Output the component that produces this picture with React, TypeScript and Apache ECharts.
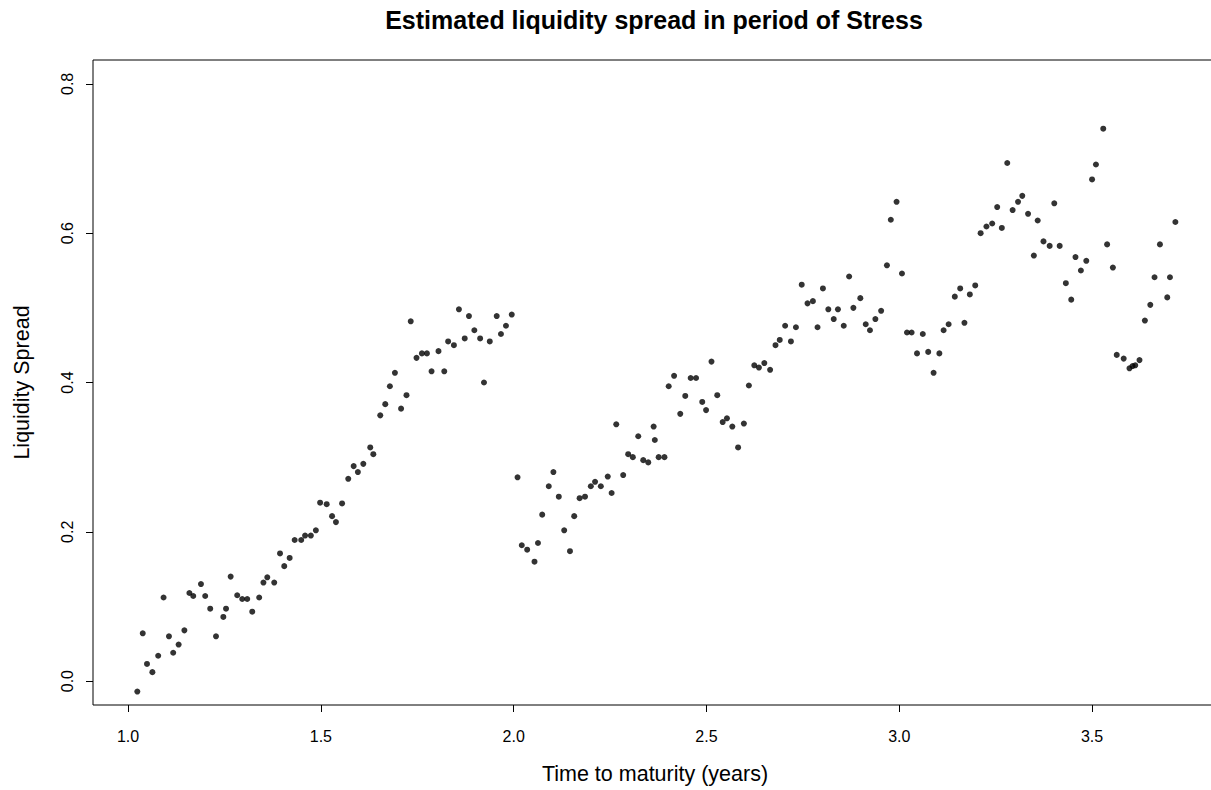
import React, { useEffect, useRef } from "react";
import * as echarts from "echarts";

const TITLE = "Estimated liquidity spread in period of Stress";
const X_LABEL = "Time to maturity (years)";
const Y_LABEL = "Liquidity Spread";

const xTicks = [1.0, 1.5, 2.0, 2.5, 3.0, 3.5];
const yTicks = [0.0, 0.2, 0.4, 0.6, 0.8];

const maturity = [
  1.024, 1.038, 1.049, 1.063, 1.078, 1.092, 1.106, 1.117, 1.131, 1.146,
  1.159, 1.169, 1.189, 1.2, 1.213, 1.228, 1.247, 1.254, 1.266, 1.283,
  1.296, 1.309, 1.322, 1.34, 1.351, 1.361, 1.379, 1.394, 1.405, 1.419,
  1.432, 1.449, 1.459, 1.474, 1.487, 1.498, 1.515, 1.529, 1.539, 1.555,
  1.571, 1.585, 1.596, 1.61, 1.628, 1.636, 1.654, 1.667, 1.679, 1.692,
  1.708, 1.722, 1.733, 1.748, 1.762, 1.775, 1.787, 1.805, 1.82, 1.83,
  1.845, 1.858, 1.873, 1.884, 1.898, 1.913, 1.923, 1.938, 1.956, 1.967,
  1.98, 1.995,
  2.01, 2.021, 2.035, 2.054, 2.063, 2.074, 2.091, 2.103, 2.117, 2.131,
  2.146, 2.157, 2.171, 2.185, 2.2, 2.211, 2.226, 2.244, 2.254, 2.266,
  2.284, 2.297, 2.309, 2.323, 2.336, 2.349, 2.363, 2.366, 2.376, 2.391,
  2.402, 2.416, 2.432, 2.445, 2.459, 2.473, 2.489, 2.499, 2.513, 2.528,
  2.542, 2.553, 2.567, 2.582, 2.597, 2.61, 2.624, 2.636, 2.65, 2.665,
  2.679, 2.69, 2.704, 2.719, 2.732, 2.747, 2.762, 2.776, 2.788, 2.802,
  2.816, 2.83, 2.841, 2.856, 2.87, 2.881, 2.899, 2.913, 2.924, 2.938,
  2.953, 2.968, 2.978, 2.993, 3.007, 3.02, 3.032, 3.046, 3.061, 3.075,
  3.089, 3.104, 3.115, 3.128, 3.144, 3.158, 3.169, 3.183, 3.197, 3.211,
  3.226, 3.241, 3.254, 3.266, 3.28, 3.294, 3.308, 3.319, 3.334, 3.349,
  3.359, 3.374, 3.39, 3.402, 3.416, 3.432, 3.446, 3.457, 3.471, 3.485,
  3.5, 3.51, 3.529, 3.539, 3.554, 3.564, 3.582, 3.597, 3.605, 3.612,
  3.623, 3.637, 3.651, 3.662, 3.676, 3.695, 3.702, 3.716,
];

const spread = [
  -0.014, 0.064, 0.023, 0.012, 0.034, 0.112, 0.06, 0.038, 0.049, 0.068,
  0.118, 0.114, 0.13, 0.114, 0.097, 0.06, 0.086, 0.097, 0.14, 0.115,
  0.11, 0.11, 0.093, 0.112, 0.132, 0.139, 0.132, 0.171, 0.154, 0.165,
  0.189, 0.189, 0.195, 0.195, 0.202, 0.239, 0.237, 0.221, 0.213, 0.238,
  0.271, 0.288, 0.28, 0.291, 0.313, 0.304, 0.356, 0.371, 0.395, 0.413,
  0.365, 0.383, 0.482, 0.433, 0.439, 0.439, 0.415, 0.442, 0.415, 0.455,
  0.45, 0.498, 0.459, 0.489, 0.47, 0.459, 0.4, 0.455, 0.489, 0.465,
  0.476, 0.491,
  0.273, 0.182, 0.176, 0.16, 0.185, 0.223, 0.261, 0.28, 0.247, 0.202,
  0.174, 0.221, 0.245, 0.247, 0.261, 0.267, 0.261, 0.274, 0.252, 0.344,
  0.276, 0.304, 0.3, 0.328, 0.296, 0.293, 0.341, 0.323, 0.3, 0.3,
  0.395, 0.409, 0.358, 0.382, 0.406, 0.406, 0.374, 0.363, 0.428, 0.383,
  0.347, 0.352, 0.341, 0.313, 0.345, 0.396, 0.423, 0.42, 0.426, 0.417,
  0.45, 0.457, 0.476, 0.455, 0.474, 0.531, 0.506, 0.509, 0.474, 0.526,
  0.498, 0.485, 0.498, 0.476, 0.542, 0.5, 0.513, 0.478, 0.47, 0.485,
  0.496, 0.557, 0.618, 0.642, 0.546, 0.467, 0.467, 0.439, 0.465, 0.441,
  0.413, 0.439, 0.47, 0.478, 0.515, 0.526, 0.48, 0.518, 0.53, 0.6,
  0.609, 0.613, 0.635, 0.607, 0.694, 0.631, 0.642, 0.65, 0.626, 0.57,
  0.617, 0.589, 0.583, 0.64, 0.583, 0.533, 0.511, 0.568, 0.55, 0.563,
  0.672, 0.692, 0.74, 0.585, 0.554, 0.437, 0.432, 0.419, 0.422, 0.423,
  0.43, 0.483, 0.504, 0.541, 0.585, 0.514, 0.541, 0.615,
];

const FONT = "'Liberation Sans', Arial, Helvetica, sans-serif";

export default function App() {
  const ref = useRef<HTMLDivElement>(null);

  useEffect(() => {
    if (!ref.current) return;
    const chart = echarts.init(ref.current, undefined, { renderer: "svg" });
    const n = Math.min(maturity.length, spread.length);
    const data: number[][] = [];
    for (let i = 0; i < n; i++) data.push([maturity[i], spread[i]]);

    chart.setOption({
      animation: false,
      backgroundColor: "#ffffff",
      textStyle: { fontFamily: FONT },
      grid: {
        left: 93,
        top: 60,
        right: 13,
        bottom: 83,
        show: true,
        borderColor: "#000",
        borderWidth: 1,
        backgroundColor: "transparent",
        containLabel: false,
      },
      graphic: [
        {
          type: "text",
          x: 654,
          y: 20,
          style: {
            text: TITLE,
            fontFamily: FONT,
            fontSize: 25,
            fontWeight: "bold",
            fill: "#000",
            textAlign: "center",
            textVerticalAlign: "middle",
          },
        },
      ],
      xAxis: {
        type: "value",
        min: 0.909,
        max: 3.824,
        name: X_LABEL,
        nameLocation: "middle",
        nameGap: 58,
        nameTextStyle: { fontFamily: FONT, fontSize: 21.5, color: "#000" },
        axisLine: { show: false, onZero: false },
        splitLine: { show: false },
        axisTick: {
          show: true,
          inside: false,
          length: 7,
          customValues: xTicks,
          lineStyle: { color: "#000", width: 1 },
        },
        axisLabel: {
          customValues: xTicks,
          formatter: (v: number) => v.toFixed(1),
          fontFamily: FONT,
          fontSize: 16,
          color: "#000",
          margin: 23,
        },
      },
      yAxis: {
        type: "value",
        min: -0.032,
        max: 0.832,
        name: Y_LABEL,
        nameLocation: "middle",
        nameGap: 60,
        nameRotate: 90,
        nameTextStyle: { fontFamily: FONT, fontSize: 21.5, color: "#000" },
        axisLine: { show: false, onZero: false },
        splitLine: { show: false },
        axisTick: {
          show: true,
          inside: false,
          length: 7,
          customValues: yTicks,
          lineStyle: { color: "#000", width: 1 },
        },
        axisLabel: {
          customValues: yTicks,
          formatter: (v: number) => v.toFixed(1),
          rotate: 90,
          fontFamily: FONT,
          fontSize: 16,
          color: "#000",
          margin: 18,
        },
      },
      series: [
        {
          type: "scatter",
          data,
          symbol: "circle",
          symbolSize: 6,
          itemStyle: { color: "#000" },
          silent: true,
        },
      ],
    });

    return () => {
      chart.dispose();
    };
  }, []);

  return (
    <div
      style={{
        position: "fixed",
        left: 0,
        top: 0,
        width: 1211,
        height: 790,
        overflow: "hidden",
        background: "#fff",
      }}
    >
      <div ref={ref} style={{ width: 1230, height: 790 }} />
    </div>
  );
}
